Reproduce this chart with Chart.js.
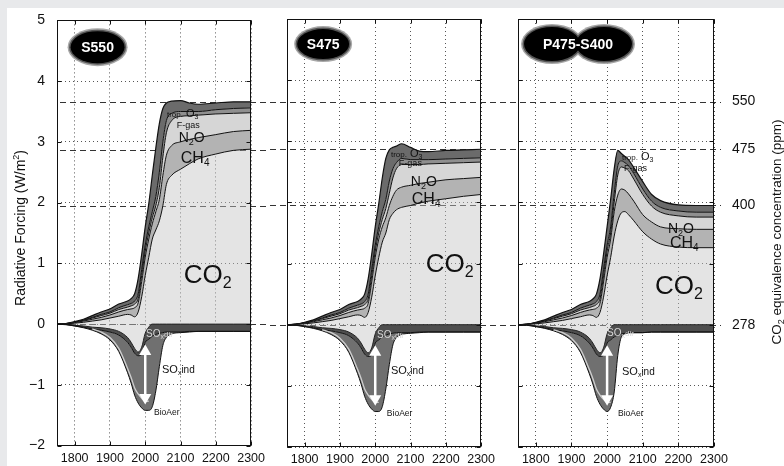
<!DOCTYPE html>
<html>
<head>
<meta charset="utf-8">
<script src="https://cdn.jsdelivr.net/npm/chart.js@4.4.1/dist/chart.umd.min.js"></script>
<style>
html, body { margin: 0; padding: 0; background: #e8e9eb; }
#page { position: relative; width: 784px; height: 466px; overflow: hidden; }
#paper { position: absolute; left: 7px; top: 8px; right: 0; bottom: 0; background: #fff; }
canvas { position: absolute; top: 0; }
</style>
</head>
<body>
<div id="page">
  <div id="paper"></div>
  <canvas id="c1" width="270" height="466" style="left:0px"></canvas>
  <canvas id="c2" width="230" height="466" style="left:270px"></canvas>
  <canvas id="c3" width="284" height="466" style="left:500px"></canvas>
</div>
<script>
// 年（過去は3シナリオ共通、将来はシナリオ別）
const histYears = [1750, 1775, 1800, 1825, 1850, 1875, 1900, 1925, 1950, 1960, 1970, 1980, 1990, 2000];
const futYears = [2010, 2020, 2030, 2040, 2050, 2060, 2075, 2100, 2125, 2150, 2200, 2250, 2300];
const xTicks = [1800, 1900, 2000, 2100, 2200, 2300];

// CO2換算濃度 (ppm) とその放射強制力 (W/m2)
const levelLabels = ['550', '475', '400', '278'];
const levelValues = [3.65, 2.87, 1.95, 0];

// 層の境界（W/m2, 下から累積） - 過去
const histBio = [0, -0.01, -0.03, -0.06, -0.1, -0.16, -0.26, -0.45, -0.8, -0.97, -1.17, -1.3, -1.38, -1.42];
const histSoxDir = [0, -0.005, -0.03, -0.05, -0.08, -0.1, -0.13, -0.18, -0.3, -0.38, -0.48, -0.52, -0.5, -0.3];
const histNegTop = [0, 0, -0.02, -0.03, -0.05, -0.06, -0.08, -0.12, -0.22, -0.3, -0.4, -0.46, -0.38, -0.15];
const histCO2 = [0, 0.005, 0.015, 0.03, 0.05, 0.07, 0.1, 0.13, 0.16, 0.15, 0.12, 0.2, 0.45, 0.8];
const histCH4 = [0, 0.007, 0.025, 0.05, 0.08, 0.11, 0.15, 0.2, 0.24, 0.25, 0.27, 0.35, 0.7, 1.1];
const histN2O = [0, 0.008, 0.03, 0.06, 0.1, 0.14, 0.18, 0.24, 0.28, 0.3, 0.33, 0.42, 0.8, 1.2];
const histFgas = [0, 0.009, 0.033, 0.065, 0.11, 0.16, 0.2, 0.27, 0.32, 0.34, 0.38, 0.5, 0.9, 1.3];
const histTotal = [0, 0.01, 0.04, 0.08, 0.14, 0.2, 0.25, 0.33, 0.38, 0.42, 0.5, 0.75, 1.15, 1.6];
const histIndLine = [null, null, null, null, -0.08, -0.13, -0.22, -0.4, -0.73, -0.88, -1.05, -1.15, -1.22, -1.27];

// 将来（共通部分）
const futSoxDir = [-0.25, -0.2, -0.17, -0.15, -0.14, -0.13, -0.13, -0.13, -0.12, -0.12, -0.12, -0.12, -0.12];
const futNegTop = [-0.05, 0, 0, 0, 0, 0, 0, 0, 0, 0, 0, 0, 0];
const futIndLine = [-1.27, null, null, null, null, null, null, null, null, null, null, null, null];

// S550
const s550Bio = [-1.42, -1.36, -1.1, -0.7, -0.35, -0.22, -0.16, -0.14, -0.13, -0.12, -0.12, -0.12, -0.12];
const s550CO2 = [1.1, 1.4, 1.55, 1.7, 1.95, 2.3, 2.45, 2.55, 2.64, 2.72, 2.8, 2.86, 2.88];
const s550CH4 = [1.4, 1.65, 1.85, 2.05, 2.45, 2.78, 2.94, 3.0, 3.04, 3.07, 3.12, 3.17, 3.19];
const s550N2O = [1.5, 1.75, 1.95, 2.25, 2.75, 3.15, 3.35, 3.42, 3.43, 3.44, 3.46, 3.47, 3.48];
const s550Fgas = [1.6, 1.85, 2.1, 2.5, 3.0, 3.35, 3.47, 3.5, 3.5, 3.5, 3.53, 3.55, 3.56];
const s550Total = [1.98, 2.45, 2.9, 3.3, 3.55, 3.64, 3.67, 3.68, 3.64, 3.62, 3.64, 3.66, 3.66];

// S475
const s475Bio = [-1.42, -1.34, -1.05, -0.65, -0.33, -0.21, -0.16, -0.14, -0.13, -0.12, -0.12, -0.12, -0.12];
const s475CO2 = [1.1, 1.35, 1.5, 1.72, 1.82, 1.88, 1.92, 1.95, 1.99, 2.02, 2.06, 2.1, 2.13];
const s475CH4 = [1.4, 1.6, 1.75, 1.95, 2.1, 2.2, 2.25, 2.28, 2.31, 2.33, 2.37, 2.39, 2.41];
const s475N2O = [1.5, 1.72, 1.9, 2.15, 2.4, 2.55, 2.62, 2.62, 2.62, 2.63, 2.64, 2.65, 2.66];
const s475Fgas = [1.6, 1.85, 2.05, 2.35, 2.55, 2.65, 2.72, 2.7, 2.7, 2.7, 2.71, 2.72, 2.73];
const s475Total = [1.98, 2.4, 2.72, 2.86, 2.9, 2.92, 2.96, 2.9, 2.84, 2.83, 2.85, 2.86, 2.87];

// P475-S400
const p475Bio = [-1.35, -1.1, -0.5, -0.2, -0.15, -0.13, -0.13, -0.13, -0.12, -0.12, -0.12, -0.12, -0.12];
const p475CO2 = [1.1, 1.45, 1.7, 1.83, 1.85, 1.8, 1.7, 1.52, 1.4, 1.32, 1.27, 1.26, 1.26];
const p475CH4 = [1.4, 1.85, 2.12, 2.22, 2.2, 2.14, 2.02, 1.8, 1.68, 1.6, 1.57, 1.56, 1.56];
const p475N2O = [1.5, 2.0, 2.45, 2.58, 2.56, 2.52, 2.38, 2.13, 1.94, 1.84, 1.78, 1.76, 1.76];
const p475Fgas = [1.6, 2.15, 2.6, 2.68, 2.65, 2.6, 2.47, 2.22, 2.02, 1.92, 1.86, 1.84, 1.84];
const p475Total = [2.05, 2.55, 2.85, 2.8, 2.75, 2.7, 2.57, 2.34, 2.13, 2.03, 1.96, 1.95, 1.95];

// 矢印（SOx間接効果の幅）
const arrowYears = [2000, 2000];
const arrowValues = [-0.45, -1.21];

const FONT = "'Liberation Sans', Arial, Helvetica, sans-serif";
const years = histYears.concat(futYears);

// 文字（下付き文字つき）
const T = (t, s, dy = 0, b = false) => ({ t, s, dy, b });
function richWidth(ctx, parts) {
    let w = 0;
    parts.forEach(p => {
        ctx.font = `${p.b ? 'bold ' : ''}${p.s}px ${FONT}`;
        w += ctx.measureText(p.t).width;
    });
    return w;
}
function drawRich(ctx, parts, x, y, color, align) {
    let cx = align === 'center' ? x - richWidth(ctx, parts) / 2 : x;
    ctx.fillStyle = color;
    ctx.textAlign = 'left';
    ctx.textBaseline = 'alphabetic';
    parts.forEach(p => {
        ctx.font = `${p.b ? 'bold ' : ''}${p.s}px ${FONT}`;
        ctx.fillText(p.t, cx, y + p.dy);
        cx += ctx.measureText(p.t).width;
    });
}
function ellipse(ctx, cx, cy, rx, ry, color) {
    ctx.beginPath();
    ctx.ellipse(cx, cy, rx, ry, 0, 0, Math.PI * 2);
    ctx.fillStyle = color;
    ctx.fill();
}

const labelParts = {
    trop: [T('trop.', 8), T(' O', 11), T('3', 7, 2)],
    fgas: [T('F-gas', 9)],
    n2o: [T('N', 14), T('2', 9, 3), T('O', 14)],
    ch4: [T('CH', 16), T('4', 10, 3)],
    co2: [T('CO', 26), T('2', 16, 5)],
    soxdir: [T('SO', 10), T('x', 7, 2), T('dir', 8)],
    soxind: [T('SO', 11), T('x', 7, 2), T('ind', 10)],
    bio: [T('BioAer', 8.5)],
};

const panels = [
    {
        id: 'c1', pageLeft: 0, pad: { left: 0, right: 17 }, leftW: 57, showLeft: true, showRight: false,
        dashFrom: 'area', dashTo: 'canvas',
        bio: s550Bio, co2: s550CO2, ch4: s550CH4, n2o: s550N2O, fgas: s550Fgas, total: s550Total,
        badge: { x: 1865, y: 4.56, text: 'S550', rx: 27, ry: 16 },
        labels: { trop: [2061.5, 3.41], fgas: [2089.5, 3.23], n2o: [2095, 3.0], ch4: [2100.8, 2.66], co2: [2109, 0.67], soxdir: [2002.5, -0.22], soxind: [2047.5, -0.8], bio: [2025, -1.49] },
    },
    {
        id: 'c2', pageLeft: 270, pad: { left: 17, right: 17 }, leftW: 0, showLeft: false, showRight: false,
        dashFrom: 'canvas', dashTo: 'canvas',
        bio: s475Bio, co2: s475CO2, ch4: s475CH4, n2o: s475N2O, fgas: s475Fgas, total: s475Total,
        badge: { x: 1852.4, y: 4.59, text: 'S475', rx: 26, ry: 15 },
        labels: { trop: [2044.6, 2.74], fgas: [2067, 2.6], n2o: [2100.8, 2.27], ch4: [2103.6, 1.97], co2: [2143, 0.86], soxdir: [2005, -0.22], soxind: [2044.6, -0.8], bio: [2033, -1.49] },
    },
    {
        id: 'c3', pageLeft: 500, pad: { left: 18, right: 0 }, leftW: 0, showLeft: false, showRight: true,
        dashFrom: 'canvas', dashTo: 'area',
        bio: p475Bio, co2: p475CO2, ch4: p475CH4, n2o: p475N2O, fgas: p475Fgas, total: p475Total,
        badge: { x: 1918.4, y: 4.59, text: 'P475-S400', rx: 28, ry: 17, double: true },
        labels: { trop: [2041.8, 2.69], fgas: [2047.5, 2.51], n2o: [2170.9, 1.5], ch4: [2176.5, 1.25], co2: [2134.4, 0.5], soxdir: [2000, -0.18], soxind: [2041.8, -0.82], bio: [2030.6, -1.49] },
    },
];

function makeDeco(p) {
    return {
        id: 'deco',
        // CO2換算濃度の破線（データの背面）
        beforeDatasetsDraw(chart) {
            const { ctx, chartArea, scales } = chart;
            const x0 = p.dashFrom === 'area' ? chartArea.left : 0;
            const x1 = p.dashTo === 'canvas' ? chart.width : chartArea.right + 7;
            ctx.save();
            ctx.strokeStyle = '#333';
            ctx.lineWidth = 1;
            ctx.setLineDash([6, 4]);
            ctx.lineDashOffset = (p.pageLeft + x0) % 10;
            levelValues.forEach(v => {
                const y = Math.round(scales.y.getPixelForValue(v)) + 0.5;
                ctx.beginPath();
                ctx.moveTo(x0, y);
                ctx.lineTo(x1, y);
                ctx.stroke();
            });
            ctx.restore();
        },
        afterDatasetsDraw(chart) {
            const { ctx, chartArea, scales } = chart;
            const { left, right, top, bottom } = chartArea;
            ctx.save();

            // ラベル
            Object.entries(p.labels).forEach(([key, pos]) => {
                const px = scales.x.getPixelForValue(pos[0]);
                const py = scales.y.getPixelForValue(pos[1]);
                drawRich(ctx, labelParts[key], px, py, key === 'soxdir' ? '#d6d6d6' : '#111', 'left');
            });

            // 枠と内向きの目盛
            ctx.strokeStyle = '#111';
            ctx.lineWidth = 1;
            const L = Math.round(left) + 0.5, R = Math.round(right) - 0.5;
            const Tp = Math.round(top) + 0.5, B = Math.round(bottom) - 0.5;
            ctx.strokeRect(L, Tp, R - L, B - Tp);
            ctx.beginPath();
            xTicks.forEach(v => {
                const x = Math.round(scales.x.getPixelForValue(v)) + 0.5;
                ctx.moveTo(x, Tp); ctx.lineTo(x, Tp + 4);
                ctx.moveTo(x, B); ctx.lineTo(x, B - 4);
            });
            scales.y.ticks.forEach(t => {
                const y = Math.round(scales.y.getPixelForValue(t.value)) + 0.5;
                ctx.moveTo(L, y); ctx.lineTo(L + 4, y);
                ctx.moveTo(R, y); ctx.lineTo(R - 4, y);
            });
            ctx.stroke();

            // シナリオ名
            const b = p.badge;
            const bx = scales.x.getPixelForValue(b.x);
            const by = scales.y.getPixelForValue(b.y);
            const centers = b.double ? [bx - 26, bx + 26] : [bx];
            centers.forEach(c => ellipse(ctx, c, by, b.rx + 3, b.ry + 3, '#a8a8a8'));
            centers.forEach(c => ellipse(ctx, c, by, b.rx + 1.5, b.ry + 1.5, '#555'));
            centers.forEach(c => ellipse(ctx, c, by, b.rx, b.ry, '#000'));
            drawRich(ctx, [T(b.text, 14, 0, true)], bx, by + 5, '#fff', 'center');

            // 軸タイトル
            if (p.showLeft) {
                ctx.save();
                ctx.translate(20, 228);
                ctx.rotate(-Math.PI / 2);
                drawRich(ctx, [T('Radiative Forcing (W/m', 14), T('2', 9, -6), T(')', 14)], 0, 5, '#111', 'center');
                ctx.restore();
            }
            if (p.showRight) {
                ctx.save();
                ctx.translate(276, 232);
                ctx.rotate(-Math.PI / 2);
                drawRich(ctx, [T('CO', 13.5), T('2', 9, 3), T(' equivalence concentration (ppm)', 13.5)], 0, 5, '#111', 'center');
                ctx.restore();
            }
            ctx.restore();
        },
    };
}

function pts(values) {
    return values.map((v, i) => ({ x: years[i], y: v }));
}

function band(values, fillColor, lineColor, width) {
    return {
        data: pts(values),
        borderColor: lineColor,
        borderWidth: width,
        backgroundColor: fillColor || 'rgba(0,0,0,0)',
        fill: fillColor ? '-1' : false,
        pointRadius: 0,
        cubicInterpolationMode: 'monotone',
    };
}

function makePanel(p) {
    const gridOpts = { color: '#555', lineWidth: 1, drawTicks: false };
    const scales = {
        x: {
            type: 'linear', min: 1750, max: 2300,
            afterBuildTicks: s => { s.ticks = xTicks.map(v => ({ value: v })); },
            afterFit: s => { s.height = 19; },
            grid: gridOpts,
            border: { display: false, dash: [1, 3] },
            ticks: { padding: 5, color: '#111', font: { family: FONT, size: 12.5 }, maxRotation: 0, autoSkip: false, callback: v => String(v) },
        },
        y: {
            min: -2, max: 5,
            afterFit: s => { s.width = p.leftW; },
            grid: gridOpts,
            border: { display: false, dash: [1, 3] },
            ticks: { stepSize: 1, display: p.showLeft, padding: 12, color: '#111', font: { family: FONT, size: 14 }, callback: v => v < 0 ? '\u2212' + (-v) : String(v) },
        },
    };
    if (p.showRight) {
        scales.y2 = {
            position: 'right', min: -2, max: 5,
            afterBuildTicks: s => { s.ticks = levelValues.map(v => ({ value: v })); },
            afterFit: s => { s.width = 70; },
            grid: { display: false },
            border: { display: false },
            ticks: { padding: 10, autoSkip: false, color: '#111', font: { family: FONT, size: 14 }, callback: v => levelLabels[levelValues.indexOf(v)] },
        };
    }

    const datasets = [
        {
            data: arrowYears.map((x, i) => ({ x, y: arrowValues[i] })),
            borderColor: '#fff', borderWidth: 2.5, fill: false,
            pointStyle: 'triangle', pointRadius: 4.5, pointRotation: [0, 180],
            pointBackgroundColor: '#fff', pointBorderColor: '#fff',
        },
        band(histIndLine.concat(futIndLine), null, '#cfcfcf', 1.3),
        band(histBio.concat(p.bio), null, '#111', 1),
        band(histSoxDir.concat(futSoxDir), '#707070', '#111', 1),
        band(histNegTop.concat(futNegTop), '#4e4e4e', '#222', 1),
        band(histCO2.concat(p.co2), 'rgba(195,195,195,0.45)', '#111', 1),
        band(histCH4.concat(p.ch4), '#b3b3b3', '#111', 1),
        band(histN2O.concat(p.n2o), '#d6d6d6', '#111', 1),
        band(histFgas.concat(p.fgas), '#8f8f8f', '#111', 1),
        band(histTotal.concat(p.total), '#6b6b6b', '#111', 1.2),
    ];

    new Chart(document.getElementById(p.id), {
        type: 'line',
        data: { datasets },
        options: {
            responsive: false,
            animation: false,
            layout: { padding: { left: p.pad.left, right: p.pad.right, top: 19, bottom: 0 } },
            plugins: { legend: { display: false }, tooltip: { enabled: false } },
            scales,
        },
        plugins: [makeDeco(p)],
    });
}

panels.forEach(makePanel);
</script>
</body>
</html>
